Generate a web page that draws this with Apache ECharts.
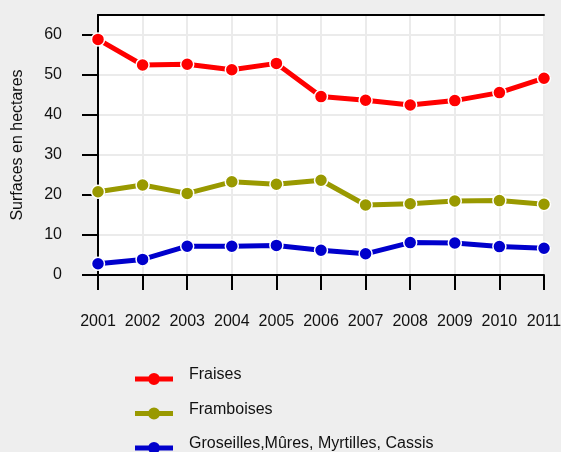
<!DOCTYPE html>
<html>
<head>
<meta charset="utf-8">
<script src="https://cdn.jsdelivr.net/npm/echarts@6/dist/echarts.min.js"></script>
<style>
  html, body { margin: 0; padding: 0; background: #eeeeee; }
  #chart { width: 561px; height: 452px; }
</style>
</head>
<body>
<div id="chart"></div>
<script>
// années
const years = ['2001', '2002', '2003', '2004', '2005', '2006', '2007', '2008', '2009', '2010', '2011']
// surfaces en hectares
const fraises = [58.9, 52.5, 52.7, 51.3, 52.9, 44.6, 43.7, 42.5, 43.6, 45.6, 49.2]
const framboises = [20.8, 22.5, 20.4, 23.3, 22.7, 23.7, 17.5, 17.8, 18.5, 18.6, 17.7]
const groseilles = [2.8, 3.9, 7.2, 7.2, 7.4, 6.2, 5.3, 8.1, 8.0, 7.1, 6.7]
const yTicks = [0, 10, 20, 30, 40, 50, 60]

const font = '"Liberation Sans", Arial, sans-serif'
// trait + rond pour la légende, placé un peu plus bas que le texte
const legendIcon = 'path://M0,0M0,11.5H38V16.5H0Z M13,14A6,6 0 1 1 25,14A6,6 0 1 1 13,14Z'

function lineSerie(name, data, color) {
  return {
    name: name,
    type: 'line',
    data: data,
    symbol: 'circle',
    symbolSize: 13,
    color: color,
    lineStyle: { width: 5, color: color },
    itemStyle: { color: color, borderColor: '#fff', borderWidth: 1.5 },
    emphasis: { disabled: true },
  }
}

const chart = echarts.init(document.getElementById('chart'))
chart.setOption({
  backgroundColor: '#eeeeee',
  animation: false,
  textStyle: { fontFamily: font },
  grid: {
    left: 98, right: 17, top: 15, bottom: 177,
    outerBoundsMode: 'none',
    containLabel: false,
    show: true, backgroundColor: '#ffffff', borderWidth: 0,
  },
  legend: {
    orient: 'vertical',
    left: 135,
    top: 365,
    height: 100,
    padding: 0,
    itemWidth: 38,
    itemHeight: 20,
    itemGap: 14.5,
    icon: legendIcon,
    itemStyle: { borderWidth: 0 },
    textStyle: { fontSize: 16, color: '#111', fontFamily: font, padding: [0, 0, 0, 11] },
    data: ['Fraises', 'Framboises', 'Groseilles,Mûres, Myrtilles, Cassis'],
  },
  xAxis: [
    {
      type: 'category',
      data: years,
      boundaryGap: false,
      axisLine: { lineStyle: { color: '#000', width: 2 } },
      axisTick: { show: true, length: 15, lineStyle: { color: '#000', width: 2 } },
      axisLabel: { margin: 39, fontSize: 16, color: '#111', interval: 0 },
      splitLine: { show: true, lineStyle: { color: '#ebebeb', width: 2 } },
    },
    {
      type: 'category',
      data: years,
      boundaryGap: false,
      position: 'top',
      axisLine: { lineStyle: { color: '#000', width: 2 } },
      axisTick: { show: false },
      axisLabel: { show: false },
      splitLine: { show: false },
    },
  ],
  yAxis: {
    type: 'value',
    min: 0,
    max: 65,
    interval: 10,
    name: 'Surfaces en hectares',
    nameLocation: 'middle',
    nameGap: 72,
    nameTextStyle: { fontSize: 16, color: '#111' },
    axisLine: { show: true, lineStyle: { color: '#000', width: 2 } },
    axisTick: { show: true, length: 16, customValues: yTicks, lineStyle: { color: '#000', width: 2 } },
    axisLabel: { margin: 36, fontSize: 16, color: '#111', customValues: yTicks },
    splitLine: { show: true, lineStyle: { color: '#ebebeb', width: 2 } },
  },
  series: [
    lineSerie('Fraises', fraises, '#ff0000'),
    lineSerie('Framboises', framboises, '#999900'),
    lineSerie('Groseilles,Mûres, Myrtilles, Cassis', groseilles, '#0000cc'),
  ],
})
</script>
</body>
</html>
